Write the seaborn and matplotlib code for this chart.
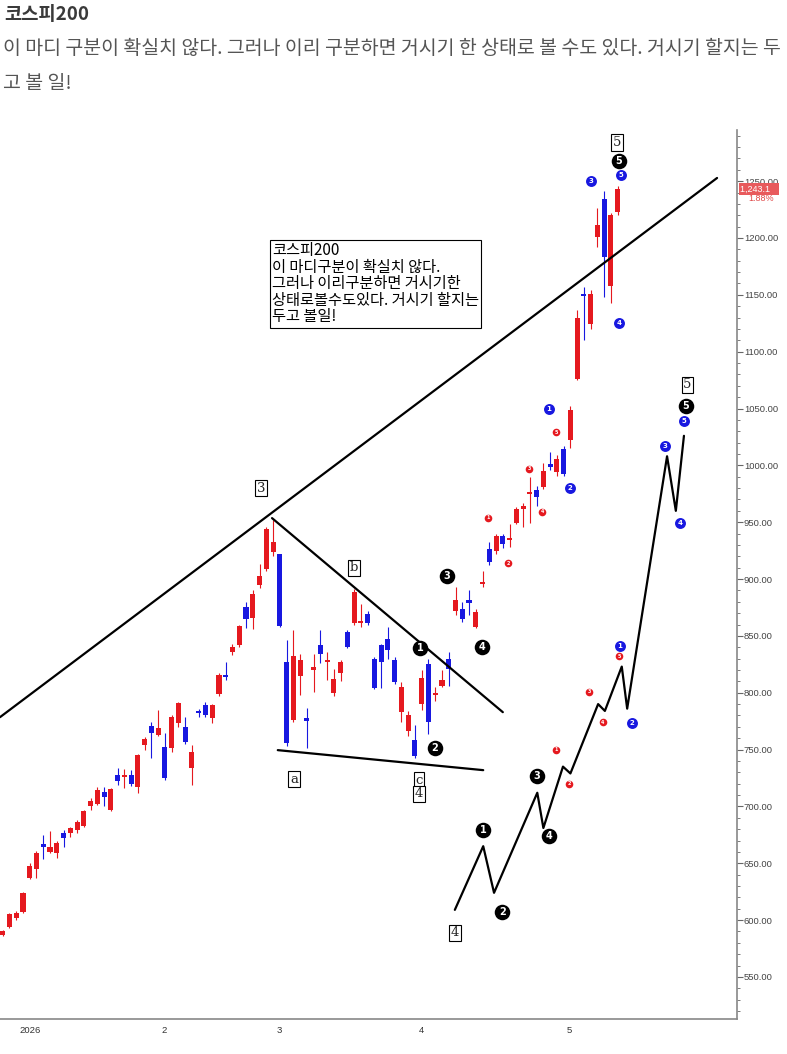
import matplotlib
matplotlib.use("Agg")
import matplotlib.pyplot as plt
import matplotlib.transforms as mtransforms
from matplotlib.ticker import MultipleLocator, FormatStrFormatter
import numpy as np
import pandas as pd
import seaborn as sns

# daily candles, late Dec 2025 -> May 2026 (trading-day index)
opens = [587, 594, 602, 607, 637, 645, 667, 660, 659, 677, 677, 679, 683, 700, 702, 713,
         697, 728, 726, 728, 717, 754, 771, 763, 752, 751, 773, 770, 734, 783, 789, 778,
         799, 815, 836, 842, 875, 866, 895, 909, 924, 922, 827, 776, 815, 778, 820, 842,
         827, 800, 817, 853, 861, 861, 869, 830, 842, 847, 829, 783, 766, 758, 790, 825,
         798, 806, 830, 872, 874, 882, 858, 896, 926, 925, 938, 934, 949, 962, 975, 978,
         981, 1000, 994, 1014, 1022, 1076, 1150, 1124, 1201, 1234, 1158, 1223]
highs = [591, 606, 608, 625, 650, 661, 675, 678, 670, 679, 682, 688, 697, 707, 717, 717,
         716, 734, 733, 732, 746, 761, 774, 785, 765, 780, 792, 779, 754, 786, 792, 790,
         817, 827, 843, 860, 880, 890, 913, 946, 952, 922, 846, 855, 834, 787, 834, 855,
         836, 821, 829, 855, 891, 878, 872, 831, 843, 858, 831, 809, 784, 772, 820, 830,
         805, 820, 836, 893, 880, 890, 874, 907, 933, 940, 940, 948, 963, 967, 990, 982,
         1002, 1012, 1009, 1017, 1052, 1137, 1157, 1154, 1226, 1241, 1222, 1246]
lows = [586, 593, 600, 606, 636, 637, 654, 659, 655, 664, 673, 677, 682, 697, 701, 700,
        696, 719, 716, 718, 712, 750, 743, 762, 723, 748, 770, 755, 719, 779, 779, 773,
        797, 811, 833, 840, 857, 856, 892, 907, 920, 858, 753, 774, 798, 751, 801, 826,
        811, 797, 810, 839, 860, 858, 860, 803, 804, 830, 808, 774, 762, 743, 785, 764,
        793, 805, 806, 868, 862, 868, 857, 893, 912, 922, 927, 928, 948, 946, 949, 964,
        979, 996, 991, 991, 1015, 1075, 1110, 1120, 1192, 1148, 1143, 1220]
closes = [590, 605, 606, 624, 648, 659, 664, 664, 668, 672, 681, 686, 696, 705, 714, 708,
          715, 722, 727, 720, 745, 759, 765, 769, 725, 779, 791, 757, 748, 782, 780, 789,
          816, 814, 840, 859, 865, 887, 903, 944, 933, 859, 756, 832, 829, 775, 823, 834,
          829, 812, 827, 840, 889, 862, 861, 804, 827, 838, 809, 805, 780, 744, 813, 774,
          799, 811, 821, 882, 865, 879, 871, 897, 915, 938, 931, 935, 962, 964, 976, 972,
          995, 999, 1006, 992, 1049, 1130, 1149, 1151, 1211, 1183, 1220, 1243]

month_first_idx = [2, 23, 40, 61, 83]
month_labels = ["2026", "2", "3", "4", "5"]

# drawn lines (day index, price)
upper_line_x = [-0.4, 105.7]
upper_line_y = [778.5, 1252.8]
fall_line_x = [39.85, 74.0]
fall_line_y = [953.6, 782.9]
base_line_x = [40.7, 71.1]
base_line_y = [749.5, 731.9]
proj_x = [66.9, 71.1, 72.7, 79.1, 80.0, 82.9, 84.0, 88.1, 89.1, 91.6, 92.4, 98.3, 99.6, 100.8]
proj_y = [609, 665, 624, 712, 681, 735, 729, 790, 784, 823, 786, 1008, 960, 1026]

# wave labels
box_txt = ["3", "5", "b", "a", "c", "4", "4", "5"]
box_x = [38.2, 90.9, 52.0, 43.1, 61.6, 61.6, 66.9, 101.3]
box_y = [980, 1284, 910, 724, 723, 711, 589, 1071]

black_txt = ["1", "2", "3", "4", "5", "1", "2", "3", "4", "5"]
black_x = [61.75, 63.97, 65.74, 70.93, 91.2, 71.07, 73.9, 79.06, 80.84, 101.1]
black_y = [839, 751, 903, 840, 1268, 679, 607, 727, 674, 1052]

blue_txt = ["1", "2", "3", "4", "5", "1", "2", "3", "4", "5"]
blue_x = [80.84, 83.95, 87.05, 91.2, 91.5, 91.34, 93.1, 98.0, 100.2, 100.8]
blue_y = [1050, 980, 1250, 1125, 1255, 841, 773, 1017, 949, 1039]

red_txt = ["1", "2", "3", "4", "5", "1", "2", "3", "4", "5"]
red_x = [71.85, 74.8, 77.9, 79.85, 81.9, 81.9, 83.8, 86.75, 88.8, 91.2]
red_y = [954, 914, 997, 959, 1029, 750, 720, 801, 774, 832]

last_price = "1,243.1"
last_change = "1.88%"

title = "코스피200"
subtitle = ("이 마디 구분이 확실치 않다. 그러나 이리 구분하면 거시기 한 상태로 볼 수도 있다. 거시기 할지는 두",
            "고 볼 일!")
note = "코스피200\n이 마디구분이 확실치 않다.\n그러나 이리구분하면 거시기한\n상태로볼수도있다. 거시기 할지는\n두고 볼일!"

sns.set_style("white")
plt.rcParams["font.family"] = ["Noto Sans CJK KR", "DejaVu Sans"]

RED = "#E5191F"
BLUE = "#1818E0"

df = pd.DataFrame({"open": opens, "high": highs, "low": lows, "close": closes})
df["x"] = np.arange(len(df))
df["up"] = df["close"] >= df["open"]
df["color"] = np.where(df["up"], RED, BLUE)
df["bottom"] = df[["open", "close"]].min(axis=1)
df["height"] = (df["close"] - df["open"]).abs().clip(lower=1.8)

fig = plt.figure(figsize=(7.87, 10.54), dpi=100)
ax = fig.add_axes([0, 35 / 1054, 737 / 787, 889 / 1054])

ax.vlines(df["x"], df["low"], df["high"], colors=df["color"], linewidth=0.8, zorder=2)
ax.bar(df["x"], df["height"], bottom=df["bottom"], width=0.75, color=df["color"], linewidth=0, zorder=3)

for lx, ly in [(upper_line_x, upper_line_y), (fall_line_x, fall_line_y), (base_line_x, base_line_y)]:
    sns.lineplot(x=lx, y=ly, ax=ax, color="black", linewidth=1.6, sort=False, estimator=None, zorder=4)
sns.lineplot(x=proj_x, y=proj_y, ax=ax, color="black", linewidth=1.6, sort=False, estimator=None, zorder=4)

for t, x, y in zip(box_txt, box_x, box_y):
    ax.text(x, y, t, ha="center", va="center", fontsize=9.5, family="DejaVu Serif", zorder=6,
            bbox=dict(boxstyle="square,pad=0.12", fc="white", ec="black", lw=0.8))

ax.scatter(black_x, black_y, s=125, color="black", zorder=6, linewidths=0)
for t, x, y in zip(black_txt, black_x, black_y):
    ax.text(x, y, t, ha="center", va="center", fontsize=7, color="white", fontweight="bold",
            family="DejaVu Sans", zorder=7)

ax.scatter(blue_x, blue_y, s=62, color=BLUE, zorder=6, linewidths=0)
for t, x, y in zip(blue_txt, blue_x, blue_y):
    ax.text(x, y, t, ha="center", va="center", fontsize=5, color="white", fontweight="bold",
            family="DejaVu Sans", zorder=7)

ax.scatter(red_x, red_y, s=30, color=RED, zorder=6, linewidths=0)
for t, x, y in zip(red_txt, red_x, red_y):
    ax.text(x, y, t, ha="center", va="center", fontsize=3.5, color="white", fontweight="bold",
            family="DejaVu Sans", zorder=7)

ax.text(39.85, 1196.5, note, ha="left", va="top", fontsize=11, linespacing=0.97, color="black", zorder=8,
        bbox=dict(boxstyle="square,pad=0.15", fc="white", ec="black", lw=0.8))

ax.set_xlim(-0.4, 108.65)
ax.set_ylim(513, 1295)

ax.yaxis.tick_right()
ax.yaxis.set_major_locator(MultipleLocator(50))
ax.yaxis.set_minor_locator(MultipleLocator(10))
ax.yaxis.set_major_formatter(FormatStrFormatter("%.2f"))
ax.set_xticks([i + 0.5 for i in month_first_idx])
ax.set_xticklabels(month_labels, ha="left")
ax.tick_params(axis="y", which="major", length=4, width=0.8, color="#666", labelsize=6.8,
               labelcolor="#444", pad=1, right=True, left=False)
ax.tick_params(axis="y", which="minor", length=2, width=0.6, color="#666", right=True, left=False)
ax.tick_params(axis="x", length=3, width=0.8, color="#666", labelsize=6.8, labelcolor="#333", pad=2)
for lab in ax.get_xticklabels() + ax.get_yticklabels():
    lab.set_family("Liberation Sans")

for side in ["left", "top"]:
    ax.spines[side].set_visible(False)
for side in ["right", "bottom"]:
    ax.spines[side].set_color("#888")
    ax.spines[side].set_linewidth(1.2)

tr = mtransforms.blended_transform_factory(ax.transAxes, ax.transData)
ax.text(1.004, 1243, last_price + "   ", transform=tr, ha="left", va="center", fontsize=6.5,
        family="Liberation Sans", color="white", clip_on=False,
        bbox=dict(boxstyle="square,pad=0.15", fc="#E85A5C", ec="none"))
ax.text(1.05, 1234.5, last_change, transform=tr, ha="right", va="center", fontsize=6.5,
        family="Liberation Sans", color="#E04848", clip_on=False)

fig.text(4 / 787, 1 - 15 / 1054, title, fontsize=13.5, fontweight="bold", color="#3a3a3a", va="center")
fig.text(3 / 787, 1 - 48 / 1054, subtitle[0], fontsize=14, color="#555", va="center")
fig.text(3 / 787, 1 - 84 / 1054, subtitle[1], fontsize=14, color="#555", va="center")

fig.savefig("out.png", dpi=100)
